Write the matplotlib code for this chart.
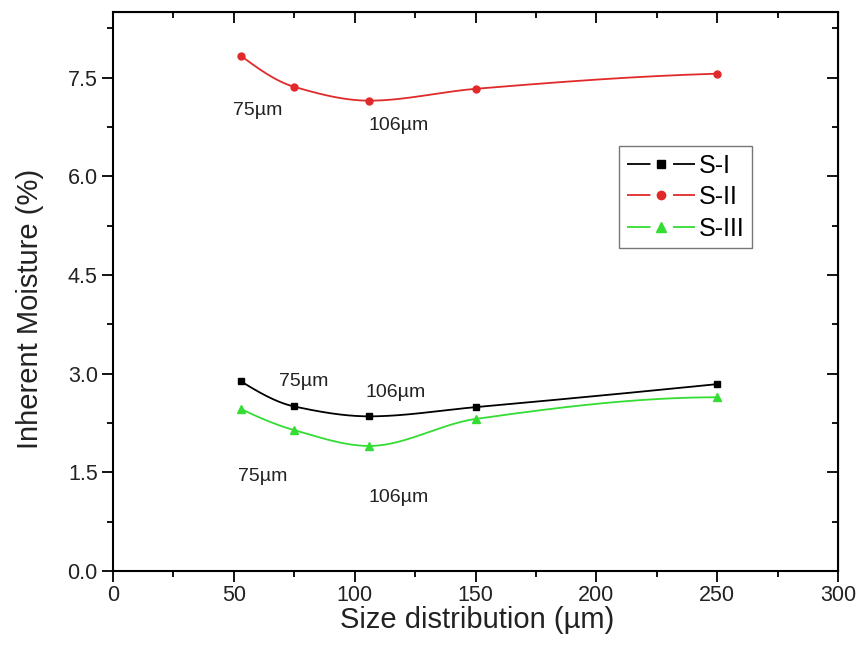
import numpy as np
import matplotlib
matplotlib.use("Agg")
import matplotlib.pyplot as plt
from matplotlib.lines import Line2D
from matplotlib.legend_handler import HandlerTuple

plt.rcParams['font.family'] = ['Liberation Sans', 'DejaVu Sans']

size = [53, 75, 106, 150, 250]
s1 = [2.88, 2.50, 2.35, 2.49, 2.84]
s2 = [7.83, 7.36, 7.15, 7.33, 7.56]
s3 = [2.46, 2.14, 1.90, 2.31, 2.64]
names = ['S-I', 'S-II', 'S-III']
notes = [  # (text, x, y)
    ('75µm', 60, 7.0), ('106µm', 118, 6.77),
    ('75µm', 79, 2.88), ('106µm', 117, 2.72),
    ('75µm', 62, 1.43), ('106µm', 118, 1.12),
]


def pchip(x, y, n=300):  # smooth monotone curve through the points, only for drawing
    x = np.asarray(x, float)
    y = np.asarray(y, float)
    h = np.diff(x)
    d = np.diff(y) / h
    m = np.zeros(len(x))
    for i in range(1, len(x) - 1):
        if d[i - 1] * d[i] > 0:
            w1 = 2 * h[i] + h[i - 1]
            w2 = h[i] + 2 * h[i - 1]
            m[i] = (w1 + w2) / (w1 / d[i - 1] + w2 / d[i])
    m[0] = ((2 * h[0] + h[1]) * d[0] - h[0] * d[1]) / (h[0] + h[1])
    if np.sign(m[0]) != np.sign(d[0]):
        m[0] = 0
    m[-1] = ((2 * h[-1] + h[-2]) * d[-1] - h[-1] * d[-2]) / (h[-1] + h[-2])
    if np.sign(m[-1]) != np.sign(d[-1]):
        m[-1] = 0
    xs = np.linspace(x[0], x[-1], n)
    k = np.clip(np.searchsorted(x, xs) - 1, 0, len(x) - 2)
    t = (xs - x[k]) / h[k]
    h00 = 2 * t**3 - 3 * t**2 + 1
    h10 = t**3 - 2 * t**2 + t
    h01 = -2 * t**3 + 3 * t**2
    h11 = t**3 - t**2
    ys = h00 * y[k] + h10 * h[k] * m[k] + h01 * y[k + 1] + h11 * h[k] * m[k + 1]
    return xs, ys


fig = plt.figure(figsize=(8.63, 6.6), dpi=100)
ax = fig.add_axes([0.131, 0.135, 0.840, 0.847])

styles = [('black', 's', 5), ('#e02a2a', 'o', 5), ('#33dd33', '^', 6)]
handles = []
for data, name, (c, mk, ms) in zip([s1, s2, s3], names, styles):
    xs, ys = pchip(size, data)
    ax.plot(xs, ys, color=c, lw=1.3)
    ax.plot(size, data, mk, color=c, ms=ms, ls='none')
    # legend: dash - marker - dash
    ln = Line2D([], [], color=c, lw=1.3, dashes=(13, 12.5))
    mk_h = Line2D([], [], color=c, marker=mk, ms=ms + 1, ls='none')
    handles.append((ln, mk_h))

for txt, x, y in notes:
    ax.text(x, y, txt, fontsize=14, ha='center', va='center', color='#222222')

xmaj = np.arange(0, 301, 50)
xmin = np.arange(25, 300, 50)
ymaj = [0, 1.5, 3.0, 4.5, 6.0, 7.5]
ymin = np.arange(0.75, 8.5, 1.5)

ax.set_xlim(0, 300)
ax.set_ylim(0, 8.5)
ax.set_xticks(xmaj)
ax.set_xticks(xmin, minor=True)
ax.set_yticks(ymaj)
ax.set_yticks(ymin, minor=True)
ax.set_yticklabels(['0.0', '1.5', '3.0', '4.5', '6.0', '7.5'])

ax.tick_params(which='both', direction='out', width=1.3, labelsize=15.5,
               colors='black', labelcolor='#222222', pad=3)
ax.tick_params(axis='x', pad=2)
ax.tick_params(which='major', length=8)
ax.tick_params(which='minor', length=4.5)
for sp in ax.spines.values():
    sp.set_linewidth(1.5)

# top and right axes: ticks pointing inward, no labels
tx = ax.secondary_xaxis('top')
tx.set_xticks(xmaj)
tx.set_xticks(xmin, minor=True)
tx.tick_params(which='both', direction='in', width=1.3, labeltop=False)
tx.tick_params(which='major', length=8)
tx.tick_params(which='minor', length=4.5)
ty = ax.secondary_yaxis('right')
ty.set_yticks(ymaj)
ty.set_yticks(ymin, minor=True)
ty.tick_params(which='both', direction='in', width=1.3, labelright=False)
ty.tick_params(which='major', length=8)
ty.tick_params(which='minor', length=4.5)

ax.set_xlabel('Size distribution (µm)', fontsize=21, color='#222222')
ax.set_ylabel('Inherent Moisture (%)', fontsize=21, color='#222222')
ax.xaxis.set_label_coords(0.502, -0.088)
ax.yaxis.set_label_coords(-0.114, 0.469)
ax.xaxis.label.set_va('center')
ax.yaxis.label.set_va('center')

leg = ax.legend(handles, names, loc='upper left', bbox_to_anchor=(0.698, 0.760),
                handler_map={tuple: HandlerTuple(ndivide=1)},
                fontsize=18, frameon=True, fancybox=False, edgecolor='#555555',
                handlelength=2.75, handletextpad=0.15, borderpad=0.3,
                labelspacing=0.3, borderaxespad=0)
leg.get_frame().set_linewidth(1.0)

fig.savefig('out.png', dpi=100)
